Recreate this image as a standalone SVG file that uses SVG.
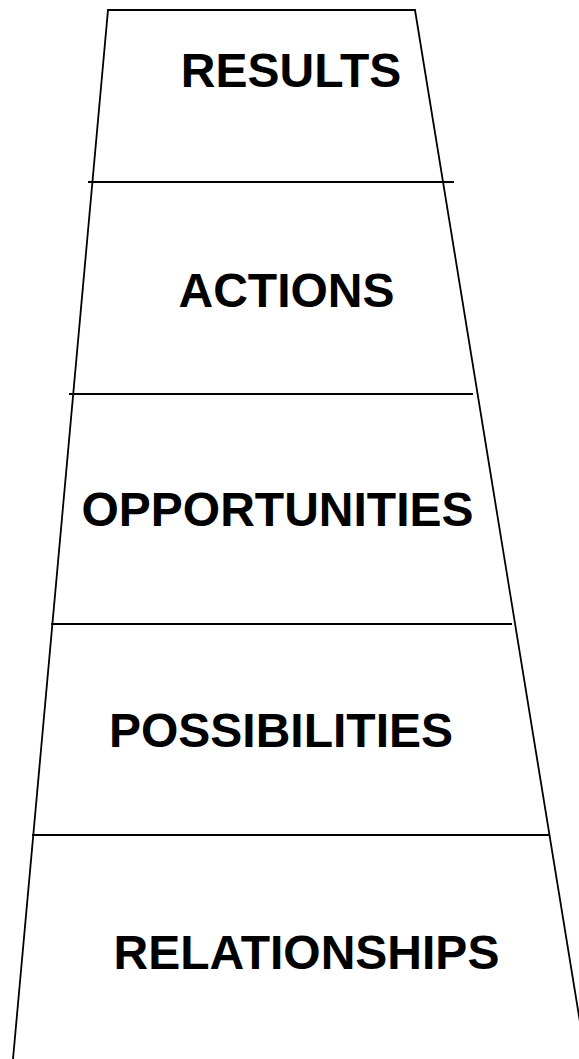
<svg xmlns="http://www.w3.org/2000/svg" width="579" height="1059" viewBox="0 0 579 1059">
  <style>
    .edge { fill: none; stroke: #000; stroke-width: 1.8; }
    .label { font-family: "Liberation Sans", Arial, sans-serif; font-weight: bold; font-size: 48px; fill: #000; text-anchor: middle; }
  </style>
  <rect width="579" height="1059" fill="#fff"/>
  <g id="connectors">
    <!-- outer frame of the ladder -->
    <path class="edge" d="M13,1059 L108,10 L415,10 L586,1059"/>
    <!-- rungs between levels -->
    <line class="edge" x1="88" y1="182" x2="454" y2="182"/>
    <line class="edge" x1="69" y1="394" x2="473" y2="394"/>
    <line class="edge" x1="51" y1="624" x2="512" y2="624"/>
    <line class="edge" x1="32" y1="835" x2="550" y2="835"/>
  </g>
  <g id="results"><text class="label" x="291" y="86.5">RESULTS</text></g>
  <g id="actions"><text class="label" x="286.5" y="306.5">ACTIONS</text></g>
  <g id="opportunities"><text class="label" x="277.5" y="526">OPPORTUNITIES</text></g>
  <g id="possibilities"><text class="label" x="281" y="746.5">POSSIBILITIES</text></g>
  <g id="relationships"><text class="label" x="306.5" y="969">RELATIONSHIPS</text></g>
</svg>
